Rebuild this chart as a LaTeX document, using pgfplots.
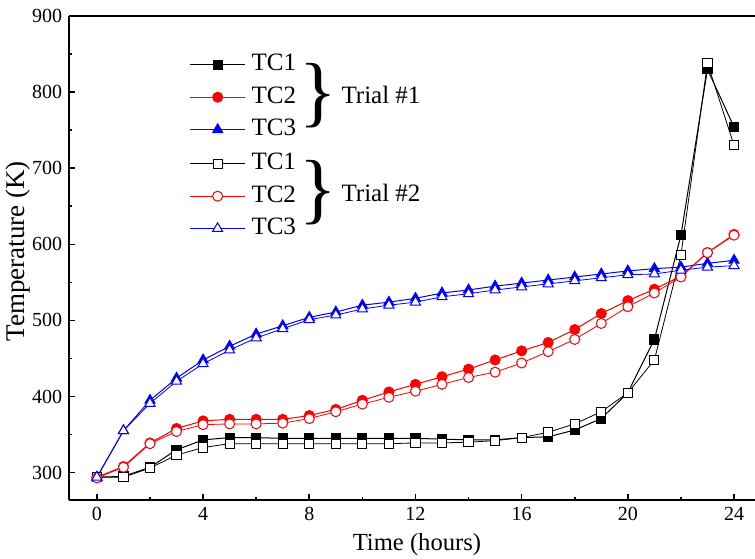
\documentclass[border=0pt]{standalone}
\usepackage{fontspec}
\setmainfont{Liberation Serif}
\usepackage{pgfplots}
\pgfplotsset{compat=1.18}

\pgfplotstableread{
t  aTCa aTCb aTCc bTCa bTCb bTCc
0  294  294  294   294  293  294
1  295  308  355   294  307  355
2  307  339  395   306  338  391
3  330  358  424   323  354  420
4  343  368  448   333  363  443
5  346  370  466   338  364  461
6  346  370  482   338  364  477
7  345  370  493   338  365  489
8  345  375  504   338  371  501
9  345  383  511   338  380  507
10 345  395  520   338  390  515
11 345  406  524   338  399  520
12 345  416  529   339  407  524
13 344  426  536   339  416  531
14 343  436  540   340  425  535
15 343  448  545   342  432  540
16 346  460  549   346  444  544
17 347  471  553   353  459  548
18 356  488  557   364  475  552
19 371  509  561   380  496  556
20 405  526  565   405  518  560
21 475  541  568   448  536  561
22 612  558  570   586  557  566
23 830  589  575   838  589  570
24 754  613  579   730  612  572
}\tcdata

\pgfplotsset{
  t1/.style={line width=0.5pt, mark options={solid, line width=0.5pt}},
  t2/.style={line width=0.4pt, mark options={solid, fill=white, line width=0.5pt}},
  legimg/.style={legend image code/.code={%
    \draw[mark repeat=2, mark phase=2, ##1] plot coordinates {(0pt,0pt)(13.75pt,0pt)(27.5pt,0pt)};}},
  legsty/.style={legend cell align=left,
    legend style={draw=none, fill=none, inner sep=0pt, outer sep=0pt,
      row sep=3.2pt, column sep=2pt, anchor=north west,
      font=\fontsize{12.5}{14}\selectfont,
      nodes={inner sep=1pt, text height=8.5pt, text depth=2.5pt}}},
}

\begin{document}
\begin{tikzpicture}
\begin{axis}[
  name=main,
  scale only axis, width=342.85pt, height=242pt,
  xmin=-1.04, xmax=24.79, ymin=264, ymax=900,
  axis x line*=bottom, axis y line*=left,
  axis line style={line width=1pt, -},
  xtick={0,4,...,24}, minor xtick={2,6,...,22},
  ytick={300,400,...,900}, minor ytick={350,450,...,850},
  tick align=inside,
  major tick length=2.8pt, minor tick length=1.6pt,
  every tick/.style={black, line width=0.8pt},
  ticklabel style={font=\fontsize{10}{12}\selectfont},
  /pgf/number format/assume math mode=true,
  every axis x label/.style={at={(rel axis cs:0.507,-0.1033)}, anchor=base,
    font=\fontsize{12.3}{14}\selectfont},
  every axis y label/.style={at={(rel axis cs:-0.0646,0.514)}, anchor=base, rotate=90,
    font=\fontsize{13.5}{15}\selectfont},
  xlabel={Time (hours)},
  ylabel={Temperature (K)},
  legimg, legsty,
  legend style={at={(rel axis cs:0.1756,0.926)}},
]
\addplot[t1, black, mark=square*, mark size=2.3pt] table[x=t, y=aTCa] {\tcdata};
\addlegendentry{TC1}
\addplot[t1, red, mark=*, mark size=2.5pt] table[x=t, y=aTCb] {\tcdata};
\addlegendentry{TC2}
\addplot[t1, blue, mark=triangle*, mark size=2.9pt] table[x=t, y=aTCc] {\tcdata};
\addlegendentry{TC3}
\addplot[t2, black, mark=square*, mark size=2.3pt, forget plot] table[x=t, y=bTCa] {\tcdata};
\addplot[t2, red, mark=*, mark size=2.5pt, forget plot] table[x=t, y=bTCb] {\tcdata};
\addplot[t2, blue, mark=triangle*, mark size=2.9pt, forget plot] table[x=t, y=bTCc] {\tcdata};
\draw[line width=1pt] (rel axis cs:0,1) -- (rel axis cs:1,1);
\node[anchor=west, inner sep=0pt, font=\fontsize{39}{39}\selectfont] at (axis cs:7.62,795.7) {\}};
\node[anchor=west, inner sep=0pt, font=\fontsize{12.5}{14}\selectfont] at (axis cs:9.2,796.2) {Trial \#1};
\node[anchor=west, inner sep=0pt, font=\fontsize{39}{39}\selectfont] at (axis cs:7.62,668.3) {\}};
\node[anchor=west, inner sep=0pt, font=\fontsize{12.5}{14}\selectfont] at (axis cs:9.2,667) {Trial \#2};
\end{axis}
\begin{axis}[
  at={(main.south west)}, anchor=south west,
  scale only axis, width=342.85pt, height=242pt,
  xmin=0, xmax=1, ymin=0, ymax=1, hide axis,
  legimg, legsty,
  legend style={at={(rel axis cs:0.1756,0.7215)}},
]
\addlegendimage{t2, black, mark=square*, mark size=2.3pt}
\addlegendentry{TC1}
\addlegendimage{t2, red, mark=*, mark size=2.5pt}
\addlegendentry{TC2}
\addlegendimage{t2, blue, mark=triangle*, mark size=2.9pt}
\addlegendentry{TC3}
\end{axis}
\pgfresetboundingbox
\useasboundingbox ([xshift=-34.65pt, yshift=-29pt]main.south west) rectangle ([yshift=8pt]main.north east);
\end{tikzpicture}
\end{document}
